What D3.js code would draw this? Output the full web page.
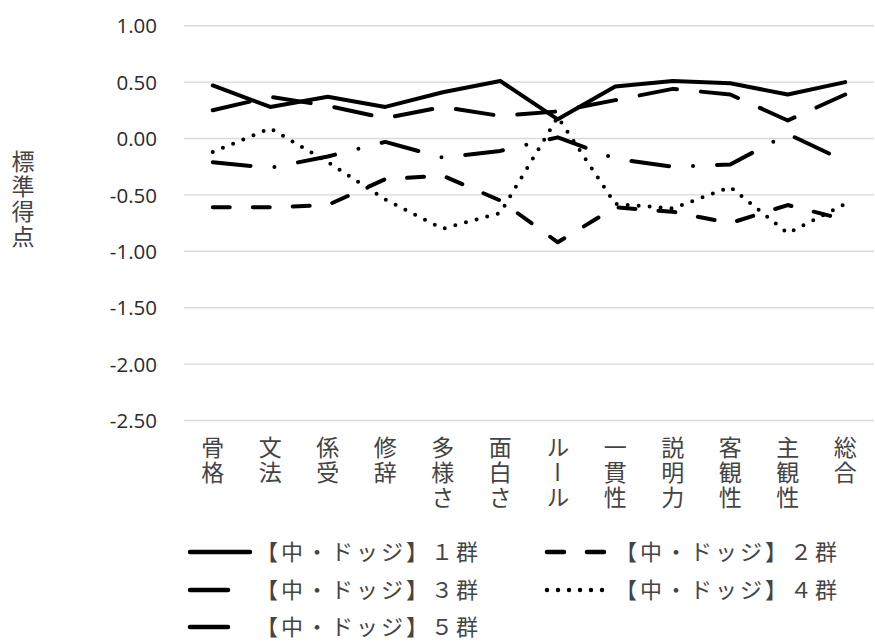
<!DOCTYPE html>
<html>
<head>
<meta charset="utf-8">
<script src="https://cdn.jsdelivr.net/npm/d3@7"></script>
<style>
  html, body { margin: 0; padding: 0; background: #fff; }
  svg { display: block; }
  .cjk { font-family: "Noto Sans CJK JP", "Noto Sans", sans-serif; }
  .num { font-family: "Open Sans", "Noto Sans", sans-serif; }
</style>
</head>
<body>
<svg id="chart" width="875" height="642"></svg>
<script>
// Categories (evaluation items)
const categories = ['骨格','文法','係受','修辞','多様さ','面白さ','ルール','一貫性','説明力','客観性','主観性','総合'];

// Standard scores per group
const group1 = [0.47, 0.28, 0.37, 0.28, 0.41, 0.51, 0.17, 0.46, 0.51, 0.49, 0.39, 0.50];
const group2 = [-0.61, -0.61, -0.59, -0.36, -0.33, -0.55, -0.92, -0.61, -0.65, -0.75, -0.59, -0.72];
const group3 = [0.25, 0.37, 0.29, 0.18, 0.28, 0.20, 0.24, 0.34, 0.44, 0.39, 0.16, 0.39];
const group4 = [-0.12, 0.09, -0.21, -0.54, -0.80, -0.66, 0.19, -0.58, -0.62, -0.43, -0.84, -0.58];
const group5 = [-0.21, -0.26, -0.16, -0.03, -0.17, -0.11, 0.01, -0.18, -0.25, -0.23, 0.04, -0.20];

const seriesNames = ['【中・ドッジ】１群','【中・ドッジ】２群','【中・ドッジ】３群','【中・ドッジ】４群','【中・ドッジ】５群'];
const yTicks = [1.0, 0.5, 0.0, -0.5, -1.0, -1.5, -2.0, -2.5];
const yTitle = '標準得点';

// Stroke pattern per series: solid, dash, long dash, round dot, long dash-dot
const dashes = [null, '17 23', '38 24', '0 11', '38 24 0 24'];

const series = [group1, group2, group3, group4, group5].map((values, i) => ({
  name: seriesNames[i], values, dash: dashes[i]
}));

const svg = d3.select('#chart');
const plot = { left: 184, right: 874, top: 25.7, bottom: 420.5 };

const x = d3.scaleBand().domain(categories).range([plot.left, plot.right]).padding(0);
const y = d3.scaleLinear().domain([-2.5, 1.0]).range([plot.bottom, plot.top]);
const cx = c => x(c) + x.bandwidth() / 2;

// Horizontal gridlines
svg.append('g').selectAll('line').data(yTicks).join('line')
  .attr('x1', plot.left).attr('x2', plot.right)
  .attr('y1', d => y(d)).attr('y2', d => y(d))
  .attr('stroke', '#d9d9d9').attr('stroke-width', 1.4);

// Y axis tick labels (plain hyphen for negatives)
const fmt = d3.format('.2f');
const yAxis = d3.axisLeft(y).tickValues(yTicks)
  .tickFormat(d => fmt(d).replace('\u2212', '-'))
  .tickSize(0).tickPadding(0);
const yg = svg.append('g').attr('transform', 'translate(157,0)').call(yAxis);
yg.select('.domain').remove();
yg.selectAll('text').attr('class', 'num').attr('font-size', 20.5).attr('fill', '#2b2b2b')
  .attr('dy', '0.35em').attr('font-family', null);

// Y axis title, written vertically
svg.append('text').attr('class', 'cjk')
  .attr('x', 23).attr('y', 150)
  .style('writing-mode', 'vertical-rl').style('text-orientation', 'upright')
  .attr('font-size', 23).attr('letter-spacing', 2).attr('fill', '#444')
  .text(yTitle);

// Category labels, written vertically
svg.append('g').selectAll('text').data(categories).join('text')
  .attr('class', 'cjk')
  .attr('x', d => cx(d)).attr('y', 436)
  .style('writing-mode', 'vertical-rl').style('text-orientation', 'upright')
  .attr('font-size', 23).attr('letter-spacing', 2).attr('fill', '#444')
  .text(d => d);

// Series lines
const line = d3.line().x((d, i) => cx(categories[i])).y(d => y(d));
svg.append('g').selectAll('path').data(series).join('path')
  .attr('d', d => line(d.values))
  .attr('fill', 'none').attr('stroke', '#000').attr('stroke-width', 4)
  .attr('stroke-linecap', 'round').attr('stroke-linejoin', 'round')
  .attr('stroke-dasharray', d => d.dash);

// Legend
const legendPos = [
  { sx: 190, tx: 256, ty: 552 },
  { sx: 547, tx: 615, ty: 552 },
  { sx: 190, tx: 256, ty: 590 },
  { sx: 547, tx: 615, ty: 590 },
  { sx: 190, tx: 256, ty: 627 }
];
const lg = svg.append('g').selectAll('g').data(series).join('g')
  .attr('transform', (d, i) => `translate(0,${legendPos[i].ty})`);
lg.append('line')
  .attr('x1', (d, i) => legendPos[i].sx).attr('x2', (d, i) => legendPos[i].sx + 60)
  .attr('y1', 0).attr('y2', 0)
  .attr('stroke', '#000').attr('stroke-width', 4.5).attr('stroke-linecap', 'round')
  .attr('stroke-dasharray', d => d.dash);
lg.append('text').attr('class', 'cjk')
  .attr('x', (d, i) => legendPos[i].tx).attr('y', 0).attr('dy', '0.35em')
  .attr('font-size', 22).attr('letter-spacing', 3).attr('fill', '#444')
  .text(d => d.name);
</script>
</body>
</html>
